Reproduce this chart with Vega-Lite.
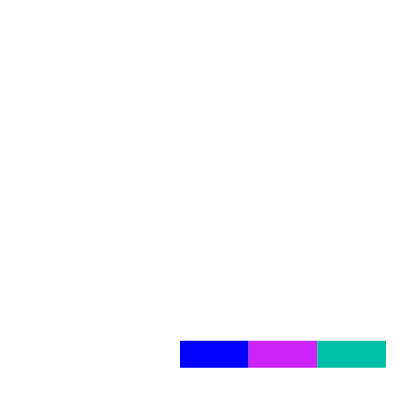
{
  "$schema": "https://vega.github.io/schema/vega-lite/v6.json",
  "autosize": {"type": "fit", "contains": "padding"},
  "width": 400,
  "height": 400,
  "padding": 0,
  "config": {"view": {"stroke": null}},
  "data": {"values": [
    {"segment": "A", "start": 0, "end": 1, "lo": 0, "hi": 1},
    {"segment": "B", "start": 1, "end": 2, "lo": 0, "hi": 1},
    {"segment": "C", "start": 2, "end": 3, "lo": 0, "hi": 1}
  ]},
  "mark": {"type": "rect"},
  "encoding": {
    "x": {"field": "start", "type": "quantitative", "scale": {"domain": [-2.621, 3.204], "nice": false, "zero": false}, "axis": null},
    "x2": {"field": "end"},
    "y": {"field": "lo", "type": "quantitative", "scale": {"domain": [-1.196, 13.618], "nice": false, "zero": false}, "axis": null},
    "y2": {"field": "hi"},
    "color": {"field": "segment", "type": "nominal", "scale": {"domain": ["A", "B", "C"], "range": ["#0000ff", "#cd24f9", "#00bfa6"]}, "legend": null}
  }
}
